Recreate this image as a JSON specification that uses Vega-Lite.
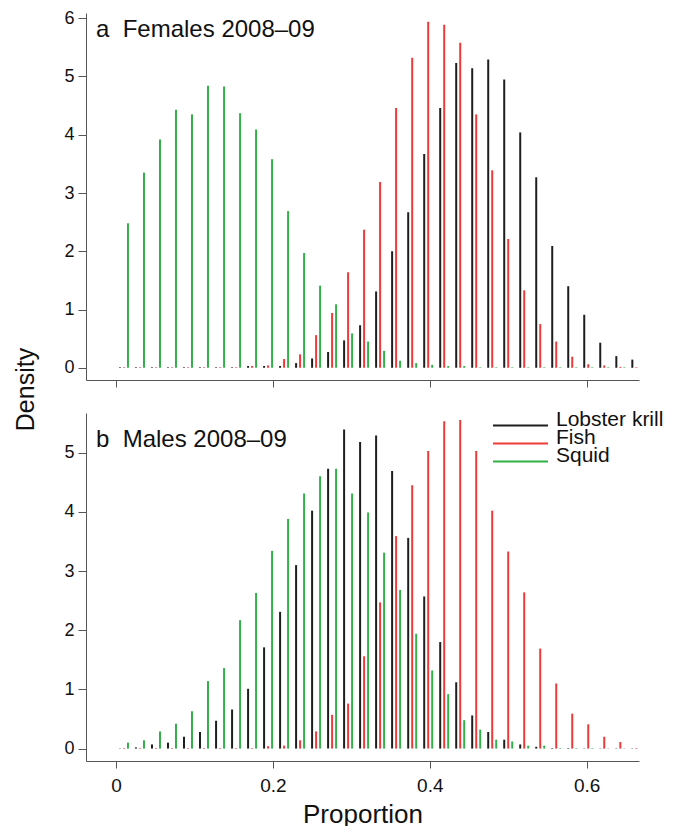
{
  "$schema": "https://vega.github.io/schema/vega-lite/v6.json",
  "background": "white",
  "padding": {"left": 13, "top": 9, "right": 0, "bottom": 0},
  "bounds": "flush",
  "spacing": 33,
  "config": {
    "view": {"stroke": null},
    "font": "Liberation Sans",
    "axis": {"grid": false, "domainColor": "#555555", "tickColor": "#555555", "domainWidth": 1, "tickWidth": 1, "labelColor": "#111111", "titleColor": "#111111", "titleFontWeight": "normal", "labelFont": "Liberation Sans", "titleFont": "Liberation Sans"},
    "title": {"font": "Liberation Sans", "fontWeight": "normal", "color": "#111111"}
  },
  "resolve": {"legend": {"color": "independent"}},
  "datasets": {
    "females": [
      {"series": "Lobster krill", "proportion": 0.0051, "density": 0.01},
      {"series": "Lobster krill", "proportion": 0.0255, "density": 0.01},
      {"series": "Lobster krill", "proportion": 0.0459, "density": 0.01},
      {"series": "Lobster krill", "proportion": 0.0663, "density": 0.01},
      {"series": "Lobster krill", "proportion": 0.0867, "density": 0.01},
      {"series": "Lobster krill", "proportion": 0.1071, "density": 0.01},
      {"series": "Lobster krill", "proportion": 0.1276, "density": 0.01},
      {"series": "Lobster krill", "proportion": 0.1480, "density": 0.01},
      {"series": "Lobster krill", "proportion": 0.1684, "density": 0.03},
      {"series": "Lobster krill", "proportion": 0.1888, "density": 0.03},
      {"series": "Lobster krill", "proportion": 0.2092, "density": 0.03},
      {"series": "Lobster krill", "proportion": 0.2296, "density": 0.08},
      {"series": "Lobster krill", "proportion": 0.2500, "density": 0.16},
      {"series": "Lobster krill", "proportion": 0.2704, "density": 0.27},
      {"series": "Lobster krill", "proportion": 0.2908, "density": 0.47},
      {"series": "Lobster krill", "proportion": 0.3112, "density": 0.73},
      {"series": "Lobster krill", "proportion": 0.3316, "density": 1.31},
      {"series": "Lobster krill", "proportion": 0.3520, "density": 2.0},
      {"series": "Lobster krill", "proportion": 0.3725, "density": 2.67},
      {"series": "Lobster krill", "proportion": 0.3929, "density": 3.67},
      {"series": "Lobster krill", "proportion": 0.4133, "density": 4.46},
      {"series": "Lobster krill", "proportion": 0.4337, "density": 5.23},
      {"series": "Lobster krill", "proportion": 0.4541, "density": 5.14},
      {"series": "Lobster krill", "proportion": 0.4745, "density": 5.29},
      {"series": "Lobster krill", "proportion": 0.4949, "density": 4.95},
      {"series": "Lobster krill", "proportion": 0.5153, "density": 4.04},
      {"series": "Lobster krill", "proportion": 0.5357, "density": 3.27},
      {"series": "Lobster krill", "proportion": 0.5561, "density": 2.09},
      {"series": "Lobster krill", "proportion": 0.5765, "density": 1.40},
      {"series": "Lobster krill", "proportion": 0.5969, "density": 0.91},
      {"series": "Lobster krill", "proportion": 0.6173, "density": 0.43},
      {"series": "Lobster krill", "proportion": 0.6378, "density": 0.20},
      {"series": "Lobster krill", "proportion": 0.6582, "density": 0.14},
      {"series": "Fish", "proportion": 0.0102, "density": 0.01},
      {"series": "Fish", "proportion": 0.0306, "density": 0.01},
      {"series": "Fish", "proportion": 0.0510, "density": 0.01},
      {"series": "Fish", "proportion": 0.0714, "density": 0.01},
      {"series": "Fish", "proportion": 0.0918, "density": 0.01},
      {"series": "Fish", "proportion": 0.1122, "density": 0.01},
      {"series": "Fish", "proportion": 0.1327, "density": 0.01},
      {"series": "Fish", "proportion": 0.1531, "density": 0.01},
      {"series": "Fish", "proportion": 0.1735, "density": 0.03},
      {"series": "Fish", "proportion": 0.1939, "density": 0.04},
      {"series": "Fish", "proportion": 0.2143, "density": 0.15},
      {"series": "Fish", "proportion": 0.2347, "density": 0.23},
      {"series": "Fish", "proportion": 0.2551, "density": 0.56},
      {"series": "Fish", "proportion": 0.2755, "density": 0.94},
      {"series": "Fish", "proportion": 0.2959, "density": 1.64},
      {"series": "Fish", "proportion": 0.3163, "density": 2.37},
      {"series": "Fish", "proportion": 0.3367, "density": 3.19},
      {"series": "Fish", "proportion": 0.3571, "density": 4.46},
      {"series": "Fish", "proportion": 0.3776, "density": 5.32},
      {"series": "Fish", "proportion": 0.3980, "density": 5.94},
      {"series": "Fish", "proportion": 0.4184, "density": 5.89},
      {"series": "Fish", "proportion": 0.4388, "density": 5.58},
      {"series": "Fish", "proportion": 0.4592, "density": 4.35},
      {"series": "Fish", "proportion": 0.4796, "density": 3.39},
      {"series": "Fish", "proportion": 0.5000, "density": 2.21},
      {"series": "Fish", "proportion": 0.5204, "density": 1.33},
      {"series": "Fish", "proportion": 0.5408, "density": 0.75},
      {"series": "Fish", "proportion": 0.5612, "density": 0.45},
      {"series": "Fish", "proportion": 0.5816, "density": 0.19},
      {"series": "Fish", "proportion": 0.6020, "density": 0.06},
      {"series": "Fish", "proportion": 0.6224, "density": 0.04},
      {"series": "Fish", "proportion": 0.6429, "density": 0.015},
      {"series": "Fish", "proportion": 0.6633, "density": 0.01},
      {"series": "Squid", "proportion": 0.0153, "density": 2.48},
      {"series": "Squid", "proportion": 0.0357, "density": 3.35},
      {"series": "Squid", "proportion": 0.0561, "density": 3.92},
      {"series": "Squid", "proportion": 0.0765, "density": 4.43},
      {"series": "Squid", "proportion": 0.0969, "density": 4.35},
      {"series": "Squid", "proportion": 0.1173, "density": 4.84},
      {"series": "Squid", "proportion": 0.1378, "density": 4.83},
      {"series": "Squid", "proportion": 0.1582, "density": 4.37},
      {"series": "Squid", "proportion": 0.1786, "density": 4.09},
      {"series": "Squid", "proportion": 0.1990, "density": 3.58},
      {"series": "Squid", "proportion": 0.2194, "density": 2.69},
      {"series": "Squid", "proportion": 0.2398, "density": 1.97},
      {"series": "Squid", "proportion": 0.2602, "density": 1.41},
      {"series": "Squid", "proportion": 0.2806, "density": 1.09},
      {"series": "Squid", "proportion": 0.3010, "density": 0.59},
      {"series": "Squid", "proportion": 0.3214, "density": 0.45},
      {"series": "Squid", "proportion": 0.3418, "density": 0.29},
      {"series": "Squid", "proportion": 0.3622, "density": 0.12},
      {"series": "Squid", "proportion": 0.3827, "density": 0.08},
      {"series": "Squid", "proportion": 0.4031, "density": 0.05},
      {"series": "Squid", "proportion": 0.4235, "density": 0.03},
      {"series": "Squid", "proportion": 0.4439, "density": 0.03},
      {"series": "Squid", "proportion": 0.4643, "density": 0.01},
      {"series": "Squid", "proportion": 0.4847, "density": 0.01},
      {"series": "Squid", "proportion": 0.5051, "density": 0.01},
      {"series": "Squid", "proportion": 0.5255, "density": 0.01},
      {"series": "Squid", "proportion": 0.5459, "density": 0.01},
      {"series": "Squid", "proportion": 0.5663, "density": 0.01},
      {"series": "Squid", "proportion": 0.5867, "density": 0.01},
      {"series": "Squid", "proportion": 0.6071, "density": 0.01},
      {"series": "Squid", "proportion": 0.6275, "density": 0.01},
      {"series": "Squid", "proportion": 0.6480, "density": 0.01}
    ],
    "males": [
      {"series": "Lobster krill", "proportion": 0.0051, "density": 0.005},
      {"series": "Lobster krill", "proportion": 0.0255, "density": 0.02},
      {"series": "Lobster krill", "proportion": 0.0459, "density": 0.07},
      {"series": "Lobster krill", "proportion": 0.0663, "density": 0.10},
      {"series": "Lobster krill", "proportion": 0.0867, "density": 0.20},
      {"series": "Lobster krill", "proportion": 0.1071, "density": 0.28},
      {"series": "Lobster krill", "proportion": 0.1276, "density": 0.47},
      {"series": "Lobster krill", "proportion": 0.1480, "density": 0.66},
      {"series": "Lobster krill", "proportion": 0.1684, "density": 1.01},
      {"series": "Lobster krill", "proportion": 0.1888, "density": 1.71},
      {"series": "Lobster krill", "proportion": 0.2092, "density": 2.31},
      {"series": "Lobster krill", "proportion": 0.2296, "density": 3.10},
      {"series": "Lobster krill", "proportion": 0.2500, "density": 4.02},
      {"series": "Lobster krill", "proportion": 0.2704, "density": 4.73},
      {"series": "Lobster krill", "proportion": 0.2908, "density": 5.39},
      {"series": "Lobster krill", "proportion": 0.3112, "density": 5.18},
      {"series": "Lobster krill", "proportion": 0.3316, "density": 5.29},
      {"series": "Lobster krill", "proportion": 0.3520, "density": 4.69},
      {"series": "Lobster krill", "proportion": 0.3725, "density": 3.56},
      {"series": "Lobster krill", "proportion": 0.3929, "density": 2.57},
      {"series": "Lobster krill", "proportion": 0.4133, "density": 1.80},
      {"series": "Lobster krill", "proportion": 0.4337, "density": 1.12},
      {"series": "Lobster krill", "proportion": 0.4541, "density": 0.56},
      {"series": "Lobster krill", "proportion": 0.4745, "density": 0.28},
      {"series": "Lobster krill", "proportion": 0.4949, "density": 0.15},
      {"series": "Lobster krill", "proportion": 0.5153, "density": 0.07},
      {"series": "Lobster krill", "proportion": 0.5357, "density": 0.03},
      {"series": "Lobster krill", "proportion": 0.5561, "density": 0.01},
      {"series": "Lobster krill", "proportion": 0.5765, "density": 0.01},
      {"series": "Lobster krill", "proportion": 0.5969, "density": 0.005},
      {"series": "Lobster krill", "proportion": 0.6173, "density": 0.005},
      {"series": "Lobster krill", "proportion": 0.6378, "density": 0.005},
      {"series": "Lobster krill", "proportion": 0.6582, "density": 0.005},
      {"series": "Fish", "proportion": 0.0102, "density": 0.01},
      {"series": "Fish", "proportion": 0.0306, "density": 0.01},
      {"series": "Fish", "proportion": 0.0510, "density": 0.01},
      {"series": "Fish", "proportion": 0.0714, "density": 0.01},
      {"series": "Fish", "proportion": 0.0918, "density": 0.01},
      {"series": "Fish", "proportion": 0.1122, "density": 0.01},
      {"series": "Fish", "proportion": 0.1327, "density": 0.01},
      {"series": "Fish", "proportion": 0.1531, "density": 0.01},
      {"series": "Fish", "proportion": 0.1735, "density": 0.01},
      {"series": "Fish", "proportion": 0.1939, "density": 0.04},
      {"series": "Fish", "proportion": 0.2143, "density": 0.05},
      {"series": "Fish", "proportion": 0.2347, "density": 0.14},
      {"series": "Fish", "proportion": 0.2551, "density": 0.29},
      {"series": "Fish", "proportion": 0.2755, "density": 0.57},
      {"series": "Fish", "proportion": 0.2959, "density": 0.76},
      {"series": "Fish", "proportion": 0.3163, "density": 1.56},
      {"series": "Fish", "proportion": 0.3367, "density": 2.47},
      {"series": "Fish", "proportion": 0.3571, "density": 3.59},
      {"series": "Fish", "proportion": 0.3776, "density": 4.45},
      {"series": "Fish", "proportion": 0.3980, "density": 5.03},
      {"series": "Fish", "proportion": 0.4184, "density": 5.53},
      {"series": "Fish", "proportion": 0.4388, "density": 5.55},
      {"series": "Fish", "proportion": 0.4592, "density": 5.03},
      {"series": "Fish", "proportion": 0.4796, "density": 4.02},
      {"series": "Fish", "proportion": 0.5000, "density": 3.33},
      {"series": "Fish", "proportion": 0.5204, "density": 2.64},
      {"series": "Fish", "proportion": 0.5408, "density": 1.69},
      {"series": "Fish", "proportion": 0.5612, "density": 1.10},
      {"series": "Fish", "proportion": 0.5816, "density": 0.59},
      {"series": "Fish", "proportion": 0.6020, "density": 0.41},
      {"series": "Fish", "proportion": 0.6224, "density": 0.20},
      {"series": "Fish", "proportion": 0.6429, "density": 0.11},
      {"series": "Fish", "proportion": 0.6633, "density": 0.01},
      {"series": "Squid", "proportion": 0.0153, "density": 0.10},
      {"series": "Squid", "proportion": 0.0357, "density": 0.14},
      {"series": "Squid", "proportion": 0.0561, "density": 0.29},
      {"series": "Squid", "proportion": 0.0765, "density": 0.42},
      {"series": "Squid", "proportion": 0.0969, "density": 0.63},
      {"series": "Squid", "proportion": 0.1173, "density": 1.14},
      {"series": "Squid", "proportion": 0.1378, "density": 1.36},
      {"series": "Squid", "proportion": 0.1582, "density": 2.17},
      {"series": "Squid", "proportion": 0.1786, "density": 2.63},
      {"series": "Squid", "proportion": 0.1990, "density": 3.34},
      {"series": "Squid", "proportion": 0.2194, "density": 3.88},
      {"series": "Squid", "proportion": 0.2398, "density": 4.31},
      {"series": "Squid", "proportion": 0.2602, "density": 4.60},
      {"series": "Squid", "proportion": 0.2806, "density": 4.73},
      {"series": "Squid", "proportion": 0.3010, "density": 4.31},
      {"series": "Squid", "proportion": 0.3214, "density": 3.99},
      {"series": "Squid", "proportion": 0.3418, "density": 3.31},
      {"series": "Squid", "proportion": 0.3622, "density": 2.68},
      {"series": "Squid", "proportion": 0.3827, "density": 1.94},
      {"series": "Squid", "proportion": 0.4031, "density": 1.32},
      {"series": "Squid", "proportion": 0.4235, "density": 0.92},
      {"series": "Squid", "proportion": 0.4439, "density": 0.48},
      {"series": "Squid", "proportion": 0.4643, "density": 0.32},
      {"series": "Squid", "proportion": 0.4847, "density": 0.15},
      {"series": "Squid", "proportion": 0.5051, "density": 0.12},
      {"series": "Squid", "proportion": 0.5255, "density": 0.05},
      {"series": "Squid", "proportion": 0.5459, "density": 0.05},
      {"series": "Squid", "proportion": 0.5663, "density": 0.01},
      {"series": "Squid", "proportion": 0.5867, "density": 0.01},
      {"series": "Squid", "proportion": 0.6071, "density": 0.01},
      {"series": "Squid", "proportion": 0.6275, "density": 0.005},
      {"series": "Squid", "proportion": 0.6480, "density": 0.005}
    ]
  },
  "vconcat": [
    {
      "width": 553,
      "height": 367,
      "data": {"name": "females"},
      "title": {"text": "a\u00a0\u00a0Females 2008–09", "anchor": "start", "frame": "group", "orient": "top", "offset": 0, "dx": 10, "dy": 52, "baseline": "alphabetic", "fontSize": 24},
      "mark": {"type": "rule", "strokeWidth": 2, "clip": true},
      "encoding": {
        "x": {"field": "proportion", "type": "quantitative", "scale": {"domain": [-0.0382, 0.6667], "nice": false, "zero": false},
              "axis": {"values": [0, 0.2, 0.4, 0.6], "labels": false, "title": null, "tickSize": 7}},
        "y": {"field": "density", "type": "quantitative", "scale": {"domain": [-0.21, 6.09], "nice": false, "zero": false},
              "axis": {"values": [0, 1, 2, 3, 4, 5, 6], "tickSize": 8, "labelPadding": 4, "labelFontSize": 18, "title": "Density", "titleFontSize": 25, "titleX": -53, "titleY": 376, "titleBaseline": "alphabetic", "titleAlign": "center", "titleAngle": 270}},
        "y2": {"datum": 0},
        "color": {"field": "series", "type": "nominal",
                  "scale": {"domain": ["Lobster krill", "Fish", "Squid"], "range": ["#1e1e1e", "#f03a3a", "#33b04a"]},
                  "legend": null}
      }
    },
    {
      "width": 553,
      "height": 348,
      "data": {"name": "males"},
      "title": {"text": "b\u00a0\u00a0Males 2008–09", "anchor": "start", "frame": "group", "orient": "top", "offset": 0, "dx": 10, "dy": 58, "baseline": "alphabetic", "fontSize": 24},
      "mark": {"type": "rule", "strokeWidth": 2, "clip": true},
      "encoding": {
        "x": {"field": "proportion", "type": "quantitative", "scale": {"domain": [-0.0382, 0.6667], "nice": false, "zero": false},
              "axis": {"values": [0, 0.2, 0.4, 0.6], "format": "~g", "tickSize": 7, "labelPadding": 8, "labelFontSize": 19, "title": "Proportion", "titleFontSize": 26, "titleY": 61, "titleBaseline": "alphabetic"}},
        "y": {"field": "density", "type": "quantitative", "scale": {"domain": [-0.21, 5.67], "nice": false, "zero": false},
              "axis": {"values": [0, 1, 2, 3, 4, 5], "tickSize": 8, "labelPadding": 4, "labelFontSize": 18, "title": null}},
        "y2": {"datum": 0},
        "color": {"field": "series", "type": "nominal",
                  "scale": {"domain": ["Lobster krill", "Fish", "Squid"], "range": ["#1e1e1e", "#f03a3a", "#33b04a"]},
                  "legend": {"orient": "none", "legendX": 424, "legendY": 2, "title": null, "symbolType": "M-5,0H5", "symbolSize": 121, "symbolStrokeWidth": 2, "symbolFillColor": "transparent", "labelFontSize": 21, "labelFont": "Liberation Sans", "labelColor": "#111111", "labelOffset": 25, "labelBaseline": "alphabetic", "rowPadding": -4, "padding": 0}}
      }
    }
  ]
}
